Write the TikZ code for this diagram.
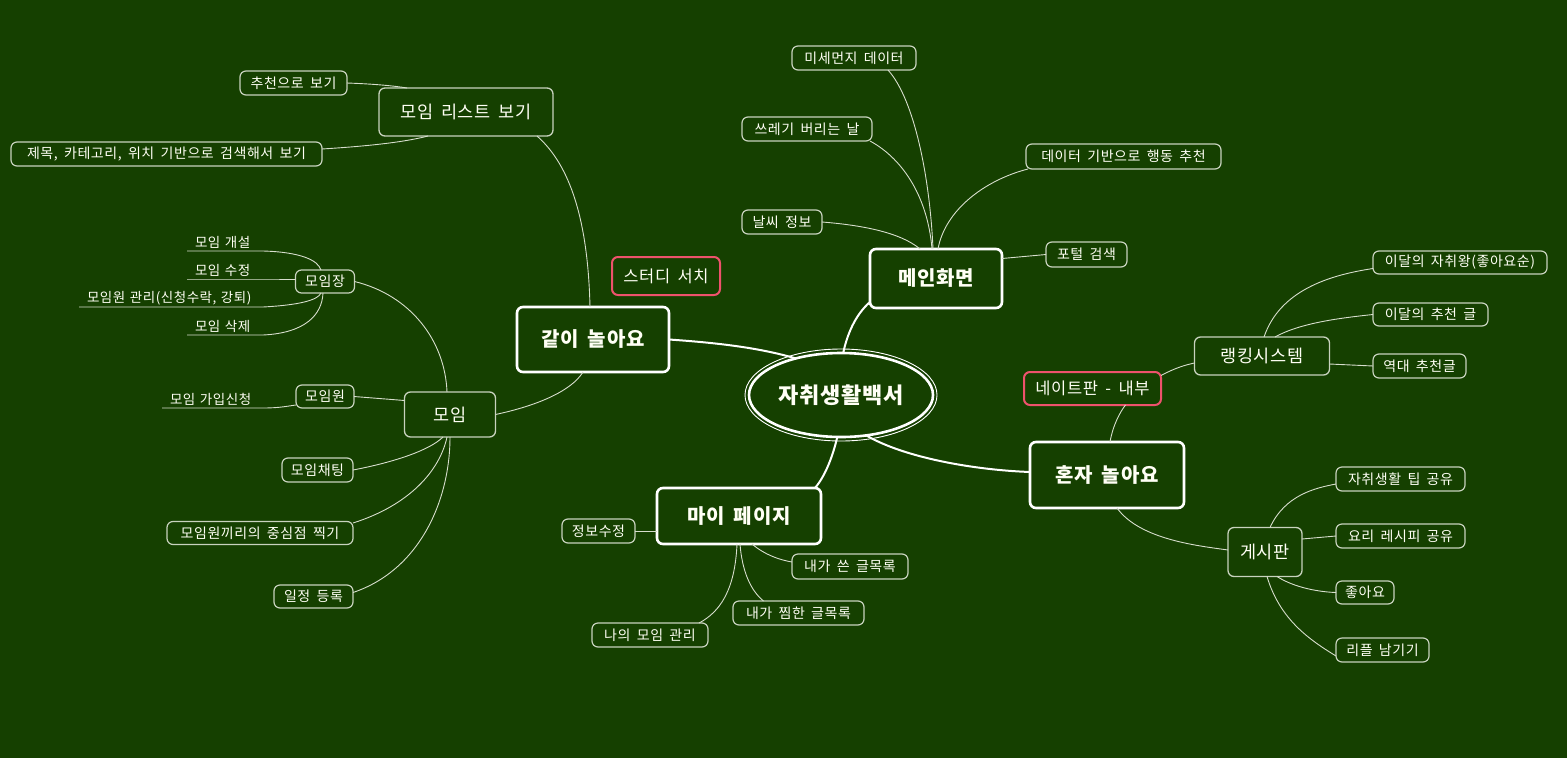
\documentclass[tikz,border=0pt]{standalone}
\usepackage{fontspec}
\setmainfont{Noto Sans CJK KR}[LetterSpace=4, WordSpace=1.7]
\usetikzlibrary{shapes.geometric}
\definecolor{bg}{RGB}{21,64,0}
\definecolor{edgegray}{RGB}{200,210,190}
\definecolor{linegray}{RGB}{215,222,205}
\definecolor{pinkc}{RGB}{238,82,108}
\definecolor{txt}{RGB}{255,255,245}
\begin{document}
\begin{tikzpicture}[x=1pt,y=-1pt,
  every node/.style={text=txt, inner sep=0pt, outer sep=0pt},
  mainbox/.style={draw=white, line width=2.6pt, rounded corners=6pt, font=\fontsize{20}{23}\selectfont\bfseries},
  midbox/.style={draw=edgegray, line width=1.3pt, rounded corners=6pt, font=\fontsize{17.5}{20}\selectfont},
  pinkbox/.style={draw=pinkc, line width=2pt, rounded corners=6pt, font=\fontsize{16.5}{19}\selectfont},
  smallbox/.style={draw=edgegray, line width=1.2pt, rounded corners=6pt, font=\fontsize{14}{16}\selectfont},
  uline/.style={anchor=south west, inner xsep=8pt, inner ysep=2pt, align=left, font=\fontsize{13.5}{15}\selectfont},
  conn/.style={draw=linegray, line width=0.9pt},
  bigconn/.style={draw=white, line width=2pt}
]
\fill[bg] (0,0) rectangle (1567,758);

% central
\node[ellipse, draw=white, line width=2.6pt, minimum width=184, minimum height=84,
  font=\fontsize{22}{26}\selectfont\bfseries] (core) at (841,395) {자취생활백서};
\node[ellipse, draw=white, line width=0.9pt, minimum width=192, minimum height=92] (coreouter) at (841,395) {};

% main boxes
\node[mainbox, minimum width=132, minimum height=59] (main) at (936,278.5) {메인화면};
\node[mainbox, minimum width=152, minimum height=65] (together) at (593,339.5) {같이 놀아요};
\node[mainbox, minimum width=164, minimum height=56] (mypage) at (739,516) {마이 페이지};
\node[mainbox, minimum width=154, minimum height=66] (alone) at (1107,475) {혼자 놀아요};

% mid boxes
\node[midbox, minimum width=174, minimum height=48] (mlist) at (466,112) {모임 리스트 보기};
\node[midbox, minimum width=91, minimum height=45] (moim) at (450,414.5) {모임};
\node[midbox, minimum width=135, minimum height=38] (rank) at (1262,356) {랭킹시스템};
\node[midbox, minimum width=74, minimum height=49] (board) at (1265,552) {게시판};

% pink boxes
\node[pinkbox, minimum width=108, minimum height=38] (study) at (666,276) {스터디 서치};
\node[pinkbox, minimum width=137, minimum height=33] (nate) at (1092.5,388.5) {네이트판 - 내부};

% small boxes
\node[smallbox, minimum width=107, minimum height=24] (rec) at (293.5,83) {추천으로 보기};
\node[smallbox, minimum width=311, minimum height=24] (search) at (166.5,154) {제목, 카테고리, 위치 기반으로 검색해서 보기};
\node[smallbox, minimum width=59, minimum height=23] (leader) at (325,281.5) {모임장};
\node[smallbox, minimum width=58, minimum height=23] (member) at (325,396.5) {모임원};
\node[smallbox, minimum width=71, minimum height=24] (chat) at (317.5,470) {모임채팅};
\node[smallbox, minimum width=186, minimum height=23] (centerpt) at (260,533) {모임원끼리의 중심점 찍기};
\node[smallbox, minimum width=79, minimum height=23] (sched) at (313.5,596.5) {일정 등록};
\node[smallbox, minimum width=124, minimum height=24] (dust) at (854,58) {미세먼지 데이터};
\node[smallbox, minimum width=130, minimum height=24] (trash) at (807,129) {쓰레기 버리는 날};
\node[smallbox, minimum width=80, minimum height=24] (weather) at (782,222) {날씨 정보};
\node[smallbox, minimum width=195, minimum height=25] (datarec) at (1123.5,156.5) {데이터 기반으로 행동 추천};
\node[smallbox, minimum width=81, minimum height=25] (portal) at (1086.5,254.5) {포털 검색};
\node[smallbox, minimum width=174, minimum height=23] (king) at (1460,262.5) {이달의 자취왕(좋아요순)};
\node[smallbox, minimum width=115, minimum height=23] (monthrec) at (1430.5,314.5) {이달의 추천 글};
\node[smallbox, minimum width=93, minimum height=24] (allrec) at (1419.5,366) {역대 추천글};
\node[smallbox, minimum width=129, minimum height=24] (tip) at (1400.5,479) {자취생활 팁 공유};
\node[smallbox, minimum width=129, minimum height=24] (recipe) at (1400.5,536) {요리 레시피 공유};
\node[smallbox, minimum width=58, minimum height=23] (like) at (1365,592.5) {좋아요};
\node[smallbox, minimum width=93, minimum height=24] (reply) at (1382.5,650) {리플 남기기};
\node[smallbox, minimum width=73, minimum height=24] (edit) at (598.5,531) {정보수정};
\node[smallbox, minimum width=116, minimum height=25] (wrote) at (850,566.5) {내가 쓴 글목록};
\node[smallbox, minimum width=131, minimum height=24] (liked) at (798.5,613) {내가 찜한 글목록};
\node[smallbox, minimum width=116, minimum height=24] (mymoim) at (650,635) {나의 모임 관리};

% underlined plain nodes
\node[uline, text width=60] (open) at (187,251) {모임 개설};
\node[uline, text width=60] (modify) at (187,279) {모임 수정};
\node[uline, text width=168] (manage) at (79,307) {모임원 관리(신청수락, 강퇴)};
\node[uline, text width=60] (delete) at (187,335) {모임 삭제};
\node[uline, text width=85] (join) at (162,408) {모임 가입신청};

% thick connectors
\draw[bigconn] (together.east) .. controls (720,343) and (760,348) .. (core.141);
\draw[bigconn] ([yshift=6pt]main.south west) .. controls (855,315) and (847,335) .. (core.87);
\draw[bigconn] ([xshift=-6pt]mypage.north east) .. controls (826,475) and (833,455) .. (core.-95);
\draw[bigconn] (core.-58) .. controls (905,458) and (975,470) .. ([yshift=3pt]alone.west);

% together branch
\draw[conn] ([xshift=71pt]mlist.south) .. controls (570,165) and (588,220) .. ([xshift=-3pt]together.north);
\draw[conn] (rec.east) .. controls (375,84) and (395,86) .. ([xshift=-59pt]mlist.north);
\draw[conn] ([yshift=5pt]search.east) .. controls (370,146) and (405,142) .. ([xshift=-38pt]mlist.south);
\draw[conn] (moim.east) .. controls (540,405) and (572,390) .. ([xshift=-10pt]together.south);
\draw[conn] (leader.east) .. controls (410,295) and (445,340) .. ([xshift=-3pt]moim.north);
\draw[conn] (member.east) -- ([yshift=14pt]moim.west);
\draw[conn] (chat.east) .. controls (395,462) and (430,450) .. ([xshift=-7pt]moim.south);
\draw[conn] ([yshift=10pt]centerpt.east) .. controls (410,505) and (440,470) .. ([xshift=-3pt]moim.south);
\draw[conn] ([yshift=4pt]sched.east) .. controls (420,570) and (450,500) .. (moim.south);
\draw[conn] (open.south west) -- (open.south east) .. controls (300,252) and (318,260) .. ([xshift=-4pt]leader.north);
\draw[conn] (modify.south west) -- (modify.south east) -- ([yshift=2.5pt]leader.west);
\draw[conn] (manage.south west) -- (manage.south east) .. controls (300,305) and (318,300) .. ([xshift=-4pt]leader.south);
\draw[conn] (delete.south west) -- (delete.south east) .. controls (305,333) and (322,315) .. ([xshift=-2pt]leader.south);
\draw[conn] (join.south west) -- (join.south east) .. controls (280,408) and (288,406) .. ([yshift=3pt]member.south west);

% main screen branch
\draw[conn] ([xshift=34pt]dust.south) .. controls (915,100) and (930,180) .. ([xshift=-3pt]main.north);
\draw[conn] ([xshift=-2pt]trash.south east) .. controls (905,160) and (928,200) .. ([xshift=-4pt]main.north);
\draw[conn] (weather.east) .. controls (860,225) and (900,232) .. ([xshift=-16pt]main.north);
\draw[conn] ([xshift=2pt]datarec.south west) .. controls (985,180) and (945,210) .. ([xshift=2pt]main.north);
\draw[conn] ([yshift=20pt]main.east) -- (portal.west);

% alone branch
\draw[conn] ([xshift=3pt]alone.north) .. controls (1113,425) and (1120,412) .. ([xshift=33pt]nate.south);
\draw[conn] ([yshift=13pt]nate.east) .. controls (1175,368) and (1185,365) .. ([yshift=-7pt]rank.west);
\draw[conn] ([xshift=2pt]rank.north) .. controls (1280,290) and (1330,275) .. ([yshift=-6pt]king.west);
\draw[conn] ([xshift=13pt]rank.north) .. controls (1300,323) and (1340,318) .. (monthrec.west);
\draw[conn] ([yshift=-8pt]rank.east) -- (allrec.west);
\draw[conn] ([xshift=10pt]alone.south) .. controls (1140,540) and (1200,546) .. ([yshift=2pt]board.west);
\draw[conn] ([xshift=5pt]board.north) .. controls (1285,495) and (1315,488) .. ([yshift=-5pt]tip.west);
\draw[conn] ([yshift=13pt]board.east) -- (recipe.west);
\draw[conn] ([xshift=12pt]board.south) .. controls (1295,588) and (1320,592) .. (like.west);
\draw[conn] ([xshift=2pt]board.south) .. controls (1280,620) and (1310,640) .. ([yshift=-6pt]reply.west);

% my page branch
\draw[conn] (edit.east) -- ([yshift=-15pt]mypage.west);
\draw[conn] ([xshift=13pt]mypage.south) .. controls (765,555) and (780,560) .. ([yshift=4.5pt]wrote.west);
\draw[conn] ([xshift=1pt]mypage.south) .. controls (742,570) and (750,590) .. ([xshift=-35pt]liked.north);
\draw[conn] ([xshift=-2pt]mypage.south) .. controls (735,590) and (720,612) .. ([xshift=49pt]mymoim.north);
\end{tikzpicture}
\end{document}
